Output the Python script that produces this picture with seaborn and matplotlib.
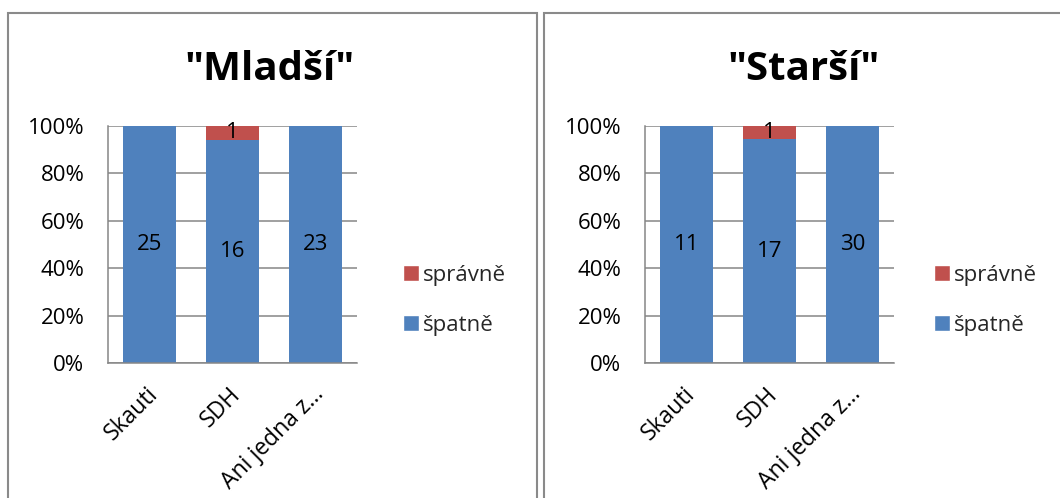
import matplotlib
matplotlib.use("Agg")
import matplotlib.pyplot as plt
import matplotlib.transforms as mtransforms
import seaborn as sns
import pandas as pd
from matplotlib.patches import Patch, Rectangle
from matplotlib.ticker import PercentFormatter

# ---- data ----
categories = ["Skauti", "SDH", "Ani jedna z..."]
tick_labels = ["Skauti", "SDH", "Ani jedna z…"]
titles = ['"Mladší"', '"Starší"']
mladsi_spatne = [25, 16, 23]
mladsi_spravne = [0, 1, 0]
starsi_spatne = [11, 17, 30]
starsi_spravne = [0, 1, 0]
series_names = ["správně", "špatně"]

BLUE = "#4F81BD"
RED = "#C0504D"
GRID = "#868686"

sns.set_theme(style="white")
plt.rcParams["font.family"] = ["Open Sans", "DejaVu Sans"]

W, H = 1060, 498
fig = plt.figure(figsize=(W / 100, H / 100), dpi=100)
fig.patch.set_facecolor("white")

def fx(px):
    return px / W

def fy(py):
    return 1 - py / H

# panel frames
for x0, x1 in [(7.5, 537.5), (544, 1075)]:
    fig.add_artist(Rectangle((fx(x0), -0.05), fx(x1) - fx(x0), fy(13) + 0.05,
                             transform=fig.transFigure, fill=False,
                             edgecolor="#8a8a8a", linewidth=1.5))

panels = [
    (titles[0], mladsi_spatne, mladsi_spravne, 108, 270, 403),
    (titles[1], starsi_spatne, starsi_spravne, 645, 804, 934),
]

for title, spatne, spravne, ax_left, title_x, leg_x in panels:
    total = [a + b for a, b in zip(spatne, spravne)]
    df = pd.DataFrame({
        "cat": categories,
        "pct_spatne": [a / t * 100 for a, t in zip(spatne, total)],
        "pct_total": [100.0] * len(categories),
    })
    ax = fig.add_axes([fx(ax_left), fy(363), 249 / W, (363 - 126) / H])
    sns.barplot(data=df, x="cat", y="pct_total", color=RED, saturation=1,
                width=0.64, errorbar=None, linewidth=0, ax=ax)
    sns.barplot(data=df, x="cat", y="pct_spatne", color=BLUE, saturation=1,
                width=0.64, errorbar=None, linewidth=0, ax=ax)
    ax.set_xlim(-0.5, 2.5)
    ax.set_ylim(0, 100)
    ax.set_yticks([0, 20, 40, 60, 80, 100])
    ax.yaxis.set_major_formatter(PercentFormatter(decimals=0))
    ax.set_xlabel("")
    ax.set_ylabel("")
    ax.set_axisbelow(True)
    ax.yaxis.grid(True, color=GRID, linewidth=1.1)
    for s in ["top", "right"]:
        ax.spines[s].set_visible(False)
    for s in ["left", "bottom"]:
        ax.spines[s].set_color(GRID)
        ax.spines[s].set_linewidth(1.1)
    ax.tick_params(axis="y", length=0, pad=17, labelsize=16, colors="black")
    ax.tick_params(axis="x", length=0, pad=20, labelsize=16.5, colors="black")
    ax.set_xticks(range(len(categories)))
    ax.set_xticklabels(tick_labels, rotation=45, ha="right", va="center",
                       rotation_mode="anchor")
    shift = mtransforms.ScaledTranslation(5 / 100, 0, fig.dpi_scale_trans)
    for lab in ax.get_xticklabels():
        lab.set_transform(lab.get_transform() + shift)
    # data labels
    ax.bar_label(ax.containers[1], labels=[str(v) for v in spatne],
                 label_type="center", fontsize=16, color="black")
    for i, (r, p) in enumerate(zip(spravne, df["pct_spatne"])):
        if r:
            ax.text(i, (100 + p) / 2, str(r), ha="center", va="center",
                    fontsize=16, color="black")
    handles = [Patch(facecolor=RED, label=series_names[0]),
               Patch(facecolor=BLUE, label=series_names[1])]
    ax.legend(handles=handles, loc="center left",
              bbox_to_anchor=((leg_x - ax_left) / 249, 0.264),
              frameon=False, fontsize=16, borderpad=0, borderaxespad=0,
              handlelength=0.7, handleheight=0.7, handletextpad=0.2,
              labelspacing=1.3)
    fig.text(fx(title_x), fy(80), title, ha="center", va="baseline",
             fontsize=29, fontweight="bold", color="black")

fig.savefig("out.png", dpi=100, facecolor="white")
